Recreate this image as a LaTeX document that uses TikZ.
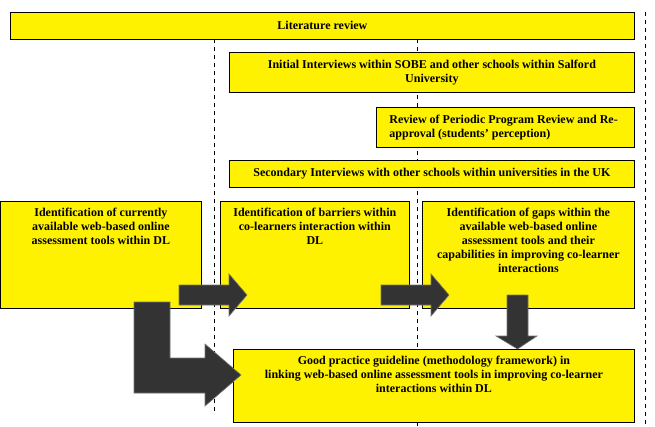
\documentclass[tikz,border=0pt]{standalone}
\usepackage{fontspec}
\setmainfont{Liberation Serif}
\begin{document}
\begin{tikzpicture}[x=1pt,y=-1pt,
  box/.style={draw=black, line width=0.8pt, fill=yellow, inner sep=0pt, anchor=north west},
  txt/.style={font=\bfseries\fontsize{12}{14}\selectfont, align=center, inner sep=0pt},
  vline/.style={draw=black, line width=0.6pt, dash pattern=on 4pt off 4pt},
  blk/.style={fill=black!80, draw=black!55, line width=0.6pt, line join=miter}]
\useasboundingbox (0,0) rectangle (655,426);
% dashed guide lines
\coordinate (d1t) at (214,39);  \coordinate (d1b) at (214,413);
\coordinate (d2t) at (417,39);  \coordinate (d2b) at (417,426);
\coordinate (d3t) at (645,12);  \coordinate (d3b) at (645,426);
\draw[vline] (d1t) -- (d1b);
\draw[vline] (d2t) -- (d2b);
\draw[vline] (d3t) -- (d3b);
% boxes
\node[box, minimum width=624pt, minimum height=27pt] (lit) at (10,12) {};
\node[txt] (litt) at (lit.center) {Literature review};
\node[box, minimum width=405pt, minimum height=40pt] (ini) at (229,52) {};
\node[txt] (init) at (ini.center) {Initial Interviews within SOBE and other schools within Salford\\University};
\node[box, minimum width=258pt, minimum height=40pt] (rev) at (376,107) {};
\node[txt, align=justify, text width=232pt] (revt) at (rev.center) {Review of Periodic Program Review and Re-\\approval (students' perception)};
\node[box, minimum width=405pt, minimum height=27pt] (sec) at (229,160) {};
\node[txt] (sect) at (sec.center) {Secondary Interviews with other schools within universities in the UK};
\node[box, minimum width=201pt, minimum height=107pt] (id1) at (0,201) {};
\node[txt, anchor=north] (id1t) at ([yshift=-7pt]id1.north) {Identification of currently\\available web-based online\\assessment tools within DL};
\node[box, minimum width=189pt, minimum height=107pt] (id2) at (220,201) {};
\node[txt, anchor=north] (id2t) at ([yshift=-7pt]id2.north) {Identification of barriers within\\co-learners interaction within\\DL};
\node[box, minimum width=212pt, minimum height=107pt] (id3) at (422,201) {};
\node[txt, anchor=north] (id3t) at ([yshift=-7pt]id3.north) {Identification of gaps within the\\available web-based online\\assessment tools and their\\capabilities in improving co-learner\\interactions};
\node[box, minimum width=401pt, minimum height=73pt] (good) at (233,349) {};
\node[txt, anchor=north] (goodt) at ([yshift=-7pt]good.north) {Good practice guideline (methodology framework) in\\linking web-based online assessment tools in improving co-learner\\interactions within DL};
% block arrows
\draw[blk] (179,285) -- (229,285) -- (229,274) -- (247,295) -- (229,316) -- (229,305) -- (179,305) -- cycle;
\draw[blk] (381,285) -- (431,285) -- (431,274) -- (449,295) -- (431,316) -- (431,305) -- (381,305) -- cycle;
\draw[blk] (507,295) -- (528,295) -- (528,336) -- (537,336) -- (517.5,349) -- (496,336) -- (507,336) -- cycle;
\draw[blk] (134,302) -- (170,302) -- (170,358) -- (205,358) -- (205,344) -- (241,375) -- (205,406) -- (205,393) -- (134,393) -- cycle;
\end{tikzpicture}
\end{document}
